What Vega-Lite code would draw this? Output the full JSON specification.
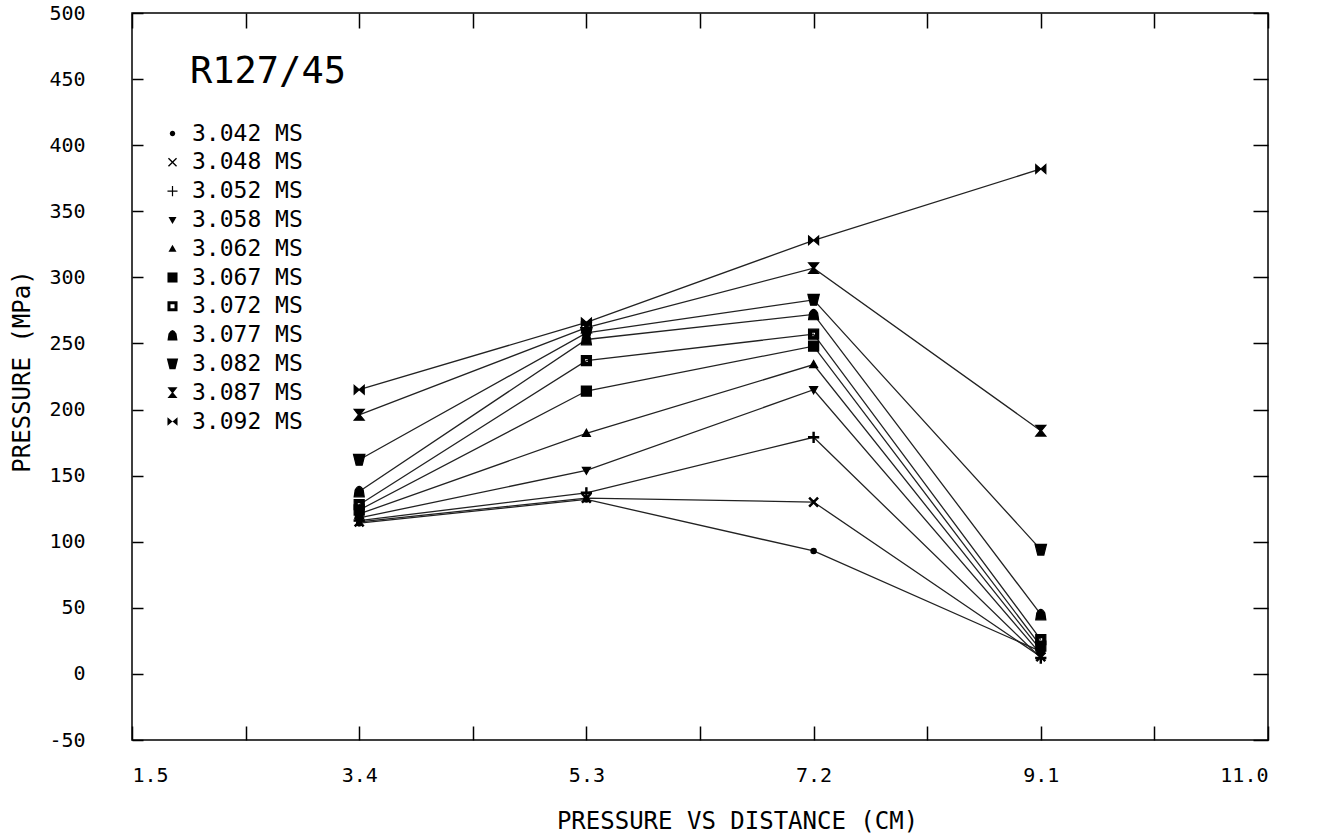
{
  "$schema": "https://vega.github.io/schema/vega-lite/v6.json",
  "autosize": "none",
  "width": 1136,
  "height": 727,
  "padding": {"left": 132, "top": 13, "right": 61, "bottom": 93},
  "background": "white",
  "title": {
    "text": "R127/45",
    "anchor": "start",
    "frame": "group",
    "orient": "top",
    "offset": 0,
    "dx": 58,
    "dy": 117,
    "baseline": "alphabetic",
    "font": "DejaVu Sans Mono",
    "fontSize": 37,
    "fontWeight": "normal",
    "color": "black"
  },
  "config": {
    "view": {"stroke": "black", "strokeWidth": 1.5},
    "axis": {
      "domain": false,
      "grid": false,
      "tickColor": "black",
      "tickWidth": 1.5,
      "labelFont": "DejaVu Sans Mono",
      "labelFontSize": 20,
      "labelColor": "black",
      "titleFont": "DejaVu Sans Mono",
      "titleFontSize": 24,
      "titleFontWeight": "normal",
      "titleColor": "black"
    }
  },
  "data": {
    "values": [
      {"series": "3.042 MS", "distance": 3.4, "pressure": 114},
      {"series": "3.042 MS", "distance": 5.3, "pressure": 132},
      {"series": "3.042 MS", "distance": 7.2, "pressure": 93},
      {"series": "3.042 MS", "distance": 9.1, "pressure": 17},
      {"series": "3.048 MS", "distance": 3.4, "pressure": 115},
      {"series": "3.048 MS", "distance": 5.3, "pressure": 133},
      {"series": "3.048 MS", "distance": 7.2, "pressure": 130},
      {"series": "3.048 MS", "distance": 9.1, "pressure": 13},
      {"series": "3.052 MS", "distance": 3.4, "pressure": 116},
      {"series": "3.052 MS", "distance": 5.3, "pressure": 137},
      {"series": "3.052 MS", "distance": 7.2, "pressure": 179},
      {"series": "3.052 MS", "distance": 9.1, "pressure": 12},
      {"series": "3.058 MS", "distance": 3.4, "pressure": 118},
      {"series": "3.058 MS", "distance": 5.3, "pressure": 154},
      {"series": "3.058 MS", "distance": 7.2, "pressure": 215},
      {"series": "3.058 MS", "distance": 9.1, "pressure": 15},
      {"series": "3.062 MS", "distance": 3.4, "pressure": 121},
      {"series": "3.062 MS", "distance": 5.3, "pressure": 182},
      {"series": "3.062 MS", "distance": 7.2, "pressure": 234},
      {"series": "3.062 MS", "distance": 9.1, "pressure": 18},
      {"series": "3.067 MS", "distance": 3.4, "pressure": 124},
      {"series": "3.067 MS", "distance": 5.3, "pressure": 214},
      {"series": "3.067 MS", "distance": 7.2, "pressure": 248},
      {"series": "3.067 MS", "distance": 9.1, "pressure": 21},
      {"series": "3.072 MS", "distance": 3.4, "pressure": 128},
      {"series": "3.072 MS", "distance": 5.3, "pressure": 237},
      {"series": "3.072 MS", "distance": 7.2, "pressure": 257},
      {"series": "3.072 MS", "distance": 9.1, "pressure": 26},
      {"series": "3.077 MS", "distance": 3.4, "pressure": 138},
      {"series": "3.077 MS", "distance": 5.3, "pressure": 253},
      {"series": "3.077 MS", "distance": 7.2, "pressure": 272},
      {"series": "3.077 MS", "distance": 9.1, "pressure": 45},
      {"series": "3.082 MS", "distance": 3.4, "pressure": 162},
      {"series": "3.082 MS", "distance": 5.3, "pressure": 258},
      {"series": "3.082 MS", "distance": 7.2, "pressure": 283},
      {"series": "3.082 MS", "distance": 9.1, "pressure": 94},
      {"series": "3.087 MS", "distance": 3.4, "pressure": 196},
      {"series": "3.087 MS", "distance": 5.3, "pressure": 262},
      {"series": "3.087 MS", "distance": 7.2, "pressure": 307},
      {"series": "3.087 MS", "distance": 9.1, "pressure": 184},
      {"series": "3.092 MS", "distance": 3.4, "pressure": 215},
      {"series": "3.092 MS", "distance": 5.3, "pressure": 266},
      {"series": "3.092 MS", "distance": 7.2, "pressure": 328},
      {"series": "3.092 MS", "distance": 9.1, "pressure": 382}
    ]
  },
  "layer": [
    {
      "mark": {"type": "line", "color": "#222222", "strokeWidth": 1.3},
      "encoding": {
        "x": {
          "field": "distance",
          "type": "quantitative",
          "scale": {"domain": [1.5, 11.0], "nice": false, "zero": false},
          "axis": {
            "orient": "bottom",
            "values": [1.5, 2.45, 3.4, 4.35, 5.3, 6.25, 7.2, 8.15, 9.1, 10.05, 11.0],
            "labelExpr": "substring(format(datum.value,'.2f'), length(format(datum.value,'.2f'))-1) == '5' ? '' : format(datum.value,'.1f')",
            "tickSize": -14,
            "labelPadding": 39,
            "labelBaseline": "top",
            "title": "PRESSURE VS DISTANCE (CM)",
            "titleX": 605,
            "titleY": 88,
            "titleAlign": "center",
            "titleBaseline": "alphabetic",
            "titleAnchor": null
          }
        },
        "y": {
          "field": "pressure",
          "type": "quantitative",
          "scale": {"domain": [-50, 500], "nice": false, "zero": false},
          "axis": {
            "orient": "left",
            "values": [-50, 0, 50, 100, 150, 200, 250, 300, 350, 400, 450, 500],
            "labelExpr": "datum.value < 0 ? '-' + abs(datum.value) : '' + datum.value",
            "tickSize": -11,
            "labelPadding": 58,
            "title": "PRESSURE (MPa)",
            "titleX": -110,
            "titleY": 358,
            "titleAngle": -90,
            "titleAlign": "center",
            "titleBaseline": "middle"
          }
        },
        "detail": {"field": "series", "type": "nominal"}
      }
    },
    {
      "mark": {"type": "point", "filled": true, "color": "black", "stroke": "black", "strokeWidth": 1.2, "opacity": 1, "size": 180},
      "encoding": {
        "x": {
          "field": "distance",
          "type": "quantitative",
          "axis": {
            "orient": "top",
            "values": [1.5, 2.45, 3.4, 4.35, 5.3, 6.25, 7.2, 8.15, 9.1, 10.05, 11.0],
            "labels": false,
            "tickSize": -15,
            "title": null
          }
        },
        "y": {
          "field": "pressure",
          "type": "quantitative",
          "axis": {
            "orient": "right",
            "values": [-50, 0, 50, 100, 150, 200, 250, 300, 350, 400, 450, 500],
            "labels": false,
            "tickSize": -15,
            "title": null
          }
        },
        "shape": {
          "field": "series",
          "type": "nominal",
          "scale": {
            "range": [
              "M0.4,0A0.4,0.4,0,1,1,-0.4,0A0.4,0.4,0,1,1,0.4,0Z",
              "M-0.53,-0.672L0,-0.141L0.53,-0.672L0.672,-0.53L0.141,0L0.672,0.53L0.53,0.672L0,0.141L-0.53,0.672L-0.672,0.53L-0.141,0L-0.672,-0.53Z",
              "M-0.75,-0.09L-0.09,-0.09L-0.09,-0.75L0.09,-0.75L0.09,-0.09L0.75,-0.09L0.75,0.09L0.09,0.09L0.09,0.75L-0.09,0.75L-0.09,0.09L-0.75,0.09Z",
              "M-0.6,-0.45L0.6,-0.45L0,0.6Z",
              "M-0.6,0.45L0.6,0.45L0,-0.6Z",
              "M-0.75,-0.75L0.75,-0.75L0.75,0.75L-0.75,0.75Z",
              "M-0.75,-0.75L0.75,-0.75L0.75,0.75L-0.75,0.75ZM-0.3,-0.3L-0.3,0.3L0.3,0.3L0.3,-0.3Z",
              "M-0.75,0.8L-0.6,-0.2Q0,-1.3,0.6,-0.2L0.75,0.8Z",
              "M-0.85,-0.8L0.85,-0.8L0.45,0.8L-0.45,0.8Z",
              "M-0.75,-0.8L0.75,-0.8L0.1,0L0.75,0.8L-0.75,0.8L-0.1,0Z",
              "M-0.75,-0.65L0.75,0.65L0.75,-0.65L-0.75,0.65Z"
            ]
          },
          "legend": {
            "orient": "none",
            "legendX": 29,
            "legendY": 109,
            "title": null,
            "padding": 0,
            "symbolSize": 180,
            "symbolFillColor": "black",
            "symbolStrokeColor": "black",
            "symbolStrokeWidth": 1.2,
            "symbolOffset": 0,
            "labelOffset": 8,
            "labelFont": "DejaVu Sans Mono",
            "labelFontSize": 23,
            "labelColor": "black",
            "rowPadding": 4.8,
            "labelLimit": 300,
            "encode": {
              "symbols": {
                "update": {
                  "stroke": {"value": "black"},
                  "strokeWidth": {"value": 1.2},
                  "fill": {"value": "black"},
                  "opacity": {"value": 1}
                }
              }
            }
          }
        }
      }
    }
  ],
  "resolve": {"axis": {"x": "independent", "y": "independent"}}
}
